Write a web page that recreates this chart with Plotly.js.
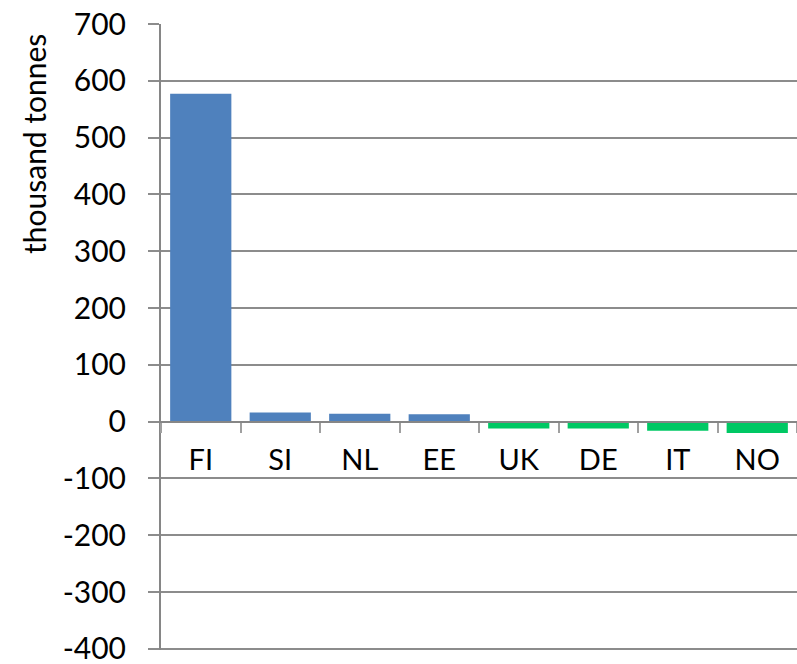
<!DOCTYPE html>
<html>
<head>
<meta charset="utf-8">
<script src="https://cdn.plot.ly/plotly-3.0.1.min.js"></script>
<style>
html,body{margin:0;padding:0;background:#fff;}
#chart{width:797px;height:664px;}
</style>
</head>
<body>
<div id="chart"></div>
<script>
var countries = ["FI", "SI", "NL", "EE", "UK", "DE", "IT", "NO"];
var values = [577, 16, 14, 13, -12, -12, -16, -20];
var posColor = "#4F81BD";
var negColor = "#00C864";
var yTicks = [-400, -300, -200, -100, 0, 100, 200, 300, 400, 500, 600, 700];
var yTitle = "thousand tonnes";

var colors = values.map(function (v) { return v >= 0 ? posColor : negColor; });

var trace = {
  type: "bar",
  x: countries,
  y: values,
  marker: {color: colors, line: {width: 0}},
  hoverinfo: "x+y"
};

var yMin = -400, yMax = 700;
var rMin = yMin - 2;
var layout = {
  width: 797,
  height: 664,
  margin: {l: 161, r: 0, t: 24, b: 14, pad: 0},
  paper_bgcolor: "#ffffff",
  plot_bgcolor: "#ffffff",
  showlegend: false,
  bargap: 0.23,
  font: {family: "Lato, 'Open Sans', sans-serif", color: "#000000"},
  xaxis: {
    type: "category",
    anchor: "free",
    position: (0 - rMin) / (yMax - rMin),
    showline: true,
    linecolor: "#868686",
    linewidth: 2,
    ticks: "outside",
    tickson: "boundaries",
    ticklen: 10,
    tickwidth: 2,
    tickcolor: "#a0a0a0",
    tickfont: {size: 29, family: "Lato, sans-serif", color: "#000"},
    ticklabelstandoff: 13,
    showgrid: false,
    zeroline: false,
    fixedrange: true
  },
  yaxis: {
    range: [rMin, yMax],
    tickvals: yTicks,
    ticktext: yTicks.map(String),
    showgrid: true,
    gridcolor: "#8c8c8c",
    gridwidth: 2,
    zeroline: false,
    showline: true,
    linecolor: "#868686",
    linewidth: 2,
    ticks: "outside",
    ticklen: 11,
    tickwidth: 2,
    tickcolor: "#8c8c8c",
    tickfont: {size: 30, family: "Lato, sans-serif", color: "#000"},
    ticklabelstandoff: 16,
    ticklabeloverflow: "allow",
    automargin: false,
    fixedrange: true
  },
  annotations: [{
    text: yTitle,
    textangle: -90,
    xref: "paper", yref: "paper",
    x: (34 - 161) / 636, y: (650 - 144) / 626,
    xanchor: "center", yanchor: "middle",
    showarrow: false,
    font: {size: 30, family: "Lato, sans-serif", color: "#000"}
  }]
};

Plotly.newPlot("chart", [trace], layout, {displayModeBar: false, staticPlot: true});
</script>
</body>
</html>
